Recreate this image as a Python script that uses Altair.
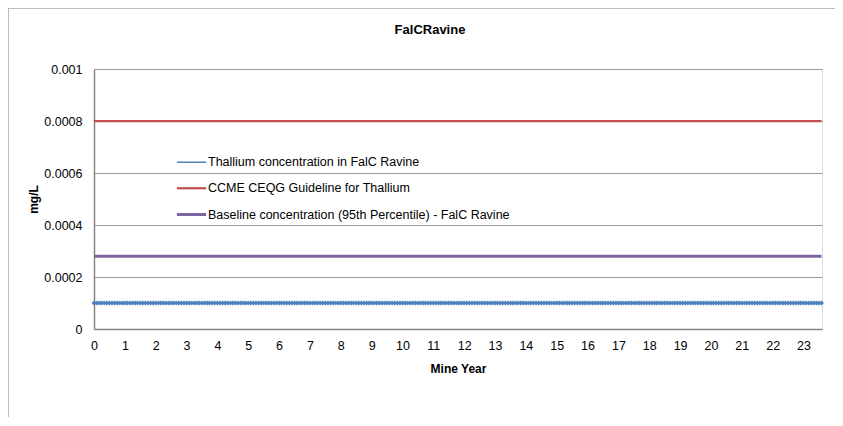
import altair as alt
import pandas as pd

# ---- data ----
series_names = [
    "Thallium concentration in FalC Ravine",
    "CCME CEQG Guideline for Thallium",
    "Baseline  concentration (95th Percentile) - FalC Ravine",
]
series_colors = ["#4F81BD", "#C0504D", "#8064A2"]
series_widths = [1.5, 3, 3]

# sampling positions (mine year, monthly steps up to ~23.6)
years = [m / 12 for m in range(0, 284)]
thallium = [0.0001] * len(years)          # mg/L, flat
guideline = [0.0008] * len(years)         # mg/L
baseline = [0.00028] * len(years)         # mg/L

x_ticks = list(range(0, 24))
y_ticks = [0, 0.0002, 0.0004, 0.0006, 0.0008, 0.001]
chart_title = "FalCRavine"

rows = []
for name, vals in zip(series_names, [thallium, guideline, baseline]):
    for x, y in zip(years, vals):
        rows.append({"series": name, "year": x, "value": y})
df = pd.DataFrame(rows)

FONT = "Liberation Sans"

x_enc = alt.X(
    "year:Q",
    scale=alt.Scale(domain=[0, 23.6], nice=False, zero=False),
    axis=alt.Axis(
        values=x_ticks, title="Mine Year", grid=False, ticks=False,
        labelPadding=10, titlePadding=12, labelFontSize=12.5, titleFontSize=12,
        titleFontWeight="bold", domainColor="#868686", domainWidth=1.5,
        labelColor="#000", titleColor="#000", labelFont=FONT, titleFont=FONT,
        labelFlush=False, labelOverlap=False,
    ),
)
y_enc = alt.Y(
    "value:Q",
    scale=alt.Scale(domain=[0, 0.001], nice=False),
    axis=alt.Axis(
        values=y_ticks, format="~g", title="mg/L", ticks=False,
        labelPadding=12, titlePadding=3, labelFontSize=12.5, titleFontSize=12,
        titleFontWeight="bold", domainColor="#868686", domainWidth=1.5,
        gridColor="#9A9A9A", gridWidth=1, labelColor="#000", titleColor="#000",
        labelFont=FONT, titleFont=FONT, labelOverlap=False,
    ),
)

legend = alt.Legend(
    title=None, orient="none", legendX=91, legendY=87,
    symbolType="M-3,0H3", symbolSize=95, rowPadding=13, labelLimit=0,
    labelFontSize=12.5, labelFont=FONT, labelColor="#000", labelOffset=10,
)

lines = alt.Chart(df).mark_line().encode(
    x=x_enc,
    y=y_enc,
    color=alt.Color("series:N", scale=alt.Scale(domain=series_names, range=series_colors),
                    legend=legend),
    strokeWidth=alt.StrokeWidth("series:N", scale=alt.Scale(domain=series_names, range=series_widths),
                                legend=legend),
    detail="series:N",
)

markers = alt.Chart(df[df["series"] == series_names[0]]).mark_point(
    shape="diamond", filled=True, size=26, color=series_colors[0], opacity=1
).encode(x=x_enc, y=y_enc)

one = pd.DataFrame({"a": [0]})
frame_left = alt.Chart(one).mark_rule(color="#A6A6A6", strokeWidth=1.5).encode(
    x=alt.value(-86), y=alt.value(-61), y2=alt.value(500)
)
frame_top = alt.Chart(one).mark_rule(color="#A6A6A6", strokeWidth=1.5).encode(
    x=alt.value(-86), x2=alt.value(900), y=alt.value(-61)
)

title_mark = alt.Chart(pd.DataFrame({"t": [chart_title]})).mark_text(
    font=FONT, fontSize=13, fontWeight="bold", color="#000", align="center", baseline="middle"
).encode(text="t:N", x=alt.value(336), y=alt.value(-39))

chart = alt.layer(frame_left, frame_top, lines, markers, title_mark).properties(
    width=728,
    height=260,
    autosize=alt.AutoSizeParams(type="none"),
    padding={"left": 86, "top": 61, "right": 13, "bottom": 88},
).configure_view(stroke=None).configure(background="white")

chart.save("out.html", embed_options={"renderer": "svg", "actions": False})
